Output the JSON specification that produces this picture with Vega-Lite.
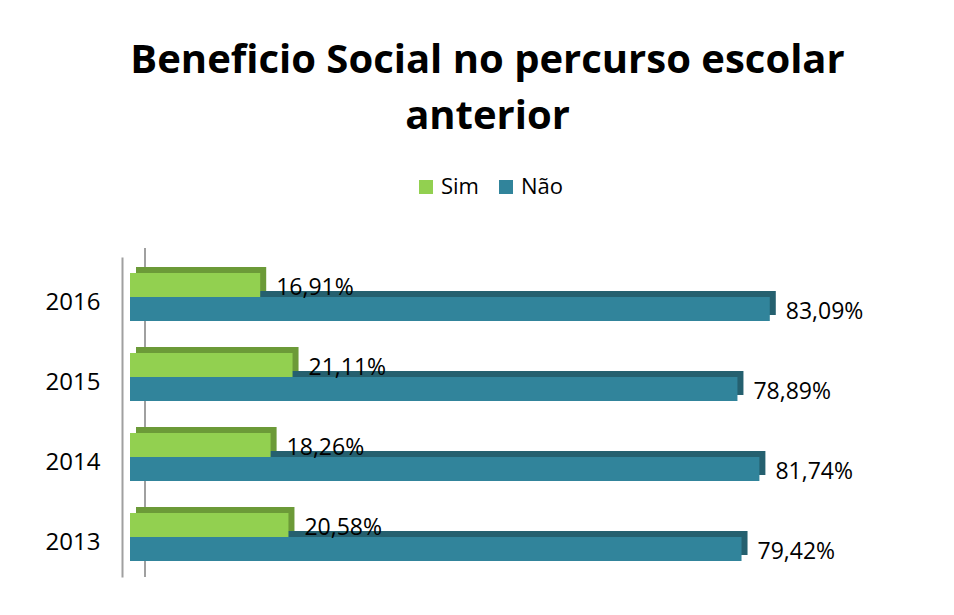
{
  "$schema": "https://vega.github.io/schema/vega-lite/v6.json",
  "autosize": "none",
  "width": 693,
  "height": 320,
  "padding": {"left": 130, "top": 257, "right": 131, "bottom": 38},
  "background": "white",
  "title": {
    "text": ["Beneficio Social no percurso escolar", "anterior"],
    "font": "Open Sans",
    "fontSize": 40,
    "fontWeight": "bold",
    "color": "#000000",
    "lineHeight": 56,
    "anchor": "middle",
    "dx": 11,
    "offset": 39
  },
  "config": {
    "view": {"stroke": null},
    "locale": {"number": {"decimal": ",", "thousands": ".", "grouping": [3], "currency": ["", "€"]}},
    "font": "Open Sans"
  },
  "data": {
    "values": [
      {"year": "2016", "serie": "Sim", "value": 0.1691},
      {"year": "2016", "serie": "Não", "value": 0.8309},
      {"year": "2015", "serie": "Sim", "value": 0.2111},
      {"year": "2015", "serie": "Não", "value": 0.7889},
      {"year": "2014", "serie": "Sim", "value": 0.1826},
      {"year": "2014", "serie": "Não", "value": 0.8174},
      {"year": "2013", "serie": "Sim", "value": 0.2058},
      {"year": "2013", "serie": "Não", "value": 0.7942}
    ]
  },
  "encoding": {
    "y": {
      "field": "year",
      "type": "nominal",
      "sort": ["2016", "2015", "2014", "2013"],
      "scale": {"paddingInner": 0.4, "paddingOuter": 0.2},
      "axis": {
        "title": null,
        "ticks": false,
        "domainColor": "#A0A0A0",
        "domainWidth": 2,
        "offset": 8,
        "labelFontSize": 24,
        "labelColor": "#000000",
        "labelPadding": 22,
        "labelOffset": 6,
        "labelFont": "Open Sans"
      }
    },
    "x": {
      "field": "value",
      "type": "quantitative",
      "scale": {"domain": [0, 0.9]},
      "axis": null
    }
  },
  "layer": [
    {
      "mark": {"type": "rule", "color": "#A0A0A0", "strokeWidth": 2, "xOffset": 15, "yOffset": -9},
      "encoding": {"x": {"datum": 0}, "y": null}
    },
    {
      "transform": [{"filter": "datum.serie === 'Sim'"}],
      "mark": {"type": "bar", "color": "#6C9A38", "height": 24, "xOffset": 6, "x2Offset": 6, "yOffset": -18}
    },
    {
      "transform": [{"filter": "datum.serie === 'Não'"}],
      "mark": {"type": "bar", "color": "#25606F", "height": 24, "xOffset": 6, "x2Offset": 6, "yOffset": 6}
    },
    {
      "mark": {"type": "bar"},
      "encoding": {
        "yOffset": {
          "field": "serie",
          "type": "nominal",
          "sort": ["Sim", "Não"],
          "scale": {"paddingInner": 0, "paddingOuter": 0}
        },
        "color": {
          "field": "serie",
          "type": "nominal",
          "sort": ["Sim", "Não"],
          "scale": {"domain": ["Sim", "Não"], "range": ["#92D050", "#31849B"]},
          "legend": {
            "title": null,
            "orient": "none",
            "legendX": 285,
            "legendY": -81,
            "direction": "horizontal",
            "symbolType": "square",
            "symbolSize": 196,
            "labelFontSize": 22,
            "labelColor": "#000000",
            "labelFont": "Open Sans",
            "columnPadding": 16
          }
        }
      }
    },
    {
      "mark": {"type": "text", "align": "left", "baseline": "middle", "dx": 16, "dy": 3, "fontSize": 23, "color": "#000000", "font": "Open Sans"},
      "encoding": {
        "yOffset": {
          "field": "serie",
          "type": "nominal",
          "sort": ["Sim", "Não"],
          "scale": {"paddingInner": 0, "paddingOuter": 0}
        },
        "text": {"field": "value", "type": "quantitative", "format": ".2%"}
      }
    }
  ]
}
